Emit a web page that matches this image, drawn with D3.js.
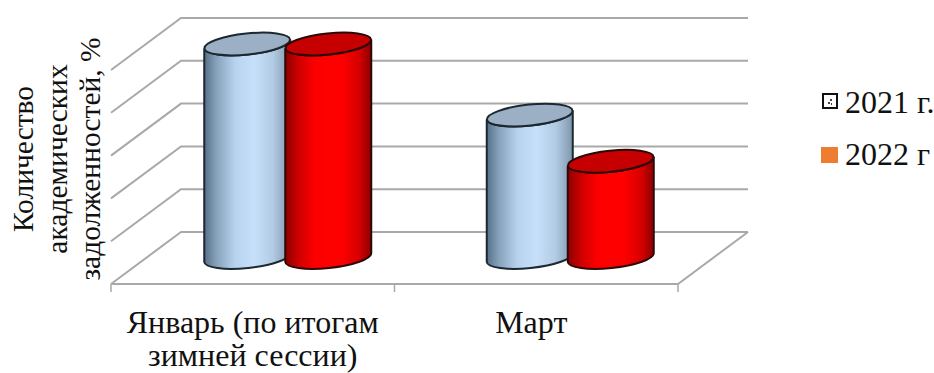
<!DOCTYPE html>
<html lang="ru"><head><meta charset="utf-8">
<script src="https://cdn.jsdelivr.net/npm/d3@7"></script>
<style>html,body{margin:0;background:#fff}svg{display:block}text{font-family:"Liberation Serif","Times New Roman",serif;fill:#111}</style>
</head><body><svg id="c" width="934" height="373"></svg>
<script>
const categories = ["Январь (по итогам|зимней сессии)", "Март"];
const seriesNames = ["2021 г.", "2022 г"];
const values2021 = [25, 16.7];
const values2022 = [25, 11.3];
const axisTitle = ["Количество", "академических", "задолженностей, %"];
const gridTicks = [0, 5, 10, 15, 20, 25];

const svg = d3.select("#c");
const depth = {dx: 70, dy: -52};
const y = d3.scaleLinear().domain([0, 25]).range([232, 18]);
const x = d3.scaleBand().domain(categories).range([111, 678]);
const xs = d3.scaleBand().domain(seriesNames).range([0, x.bandwidth()]).paddingInner(-0.04).paddingOuter(0.73);
const gridColor = "#a9a9a9";

// Horizontal gradients that give the cylinders their rounded shading
const defs = svg.append("defs");
function shade(id, stops) {
  const g = defs.append("linearGradient").attr("id", id);
  stops.forEach(([o, c]) => g.append("stop").attr("offset", o).attr("stop-color", c));
}
shade("blueSide", [[0, "#56708a"], [.14, "#86a1ba"], [.36, "#b8d3ee"], [.58, "#c6e0fb"], [.8, "#b2cbe3"], [1, "#7f97ad"]]);
shade("redSide", [[0, "#8c0000"], [.16, "#d00000"], [.34, "#fb0000"], [.65, "#ff0000"], [.85, "#d80000"], [1, "#8c0000"]]);

// Back wall gridlines with their side-wall returns, then the floor
const grid = svg.append("g").attr("stroke", gridColor).attr("stroke-width", 2).attr("fill", "none");
grid.selectAll("path.g").data(gridTicks).join("path").attr("class", "g")
  .attr("d", t => d3.line()([[111, y(t) - depth.dy], [111 + depth.dx, y(t)], [678 + depth.dx, y(t)]]));
grid.append("path").attr("d", d3.line()([[111, y(0) - depth.dy], [678, y(0) - depth.dy], [678 + depth.dx, y(0)]]));

// Category ticks along the front edge of the floor
const tickX = [...categories.map(c => x(c)), 678];
grid.selectAll("line.t").data(tickX).join("line").attr("class", "t")
  .attr("x1", d => d).attr("x2", d => d)
  .attr("y1", y(0) - depth.dy).attr("y2", y(0) - depth.dy + 8).attr("stroke-width", 1.5);

// Cylinders sit halfway back across the floor, with a slightly tilted elliptical section
const rx = 43, ry = 10.5, tilt = -6, lean = 4.5;
function drawCylinder(g, cx, v, side, cap, edge) {
  const top = y(v) + 26, base = y(0) + 25.5;
  const lx = cx - rx, rr = cx + rx;
  const body = `M${lx},${top + lean} L${lx},${base + lean} A${rx},${ry} ${tilt} 0 0 ${rr},${base - lean} L${rr},${top - lean} A${rx},${ry} ${tilt} 0 1 ${lx},${top + lean} Z`;
  g.append("path").attr("d", body).attr("fill", `url(#${side})`).attr("stroke", edge).attr("stroke-width", 2);
  g.append("ellipse").attr("transform", `translate(${cx},${top}) rotate(${tilt})`)
    .attr("rx", rx).attr("ry", ry).attr("fill", cap).attr("stroke", edge).attr("stroke-width", 2);
}
const marks = svg.append("g");
const groupShift = [0, -1];
categories.forEach((c, i) => {
  const off = x(c) + depth.dx / 2 + groupShift[i];
  drawCylinder(marks, off + xs(seriesNames[0]) + xs.bandwidth() / 2, values2021[i], "blueSide", "#9bb0c5", "#1d2730");
  drawCylinder(marks, off + xs(seriesNames[1]) + xs.bandwidth() / 2, values2022[i], "redSide", "#c60000", "#2c0808");
});

// Category labels, split over lines at the marker
const labelSize = 32, labelShift = [0, -5];
categories.forEach((c, k) => {
  const cx = x(c) + x.bandwidth() / 2 + labelShift[k];
  const t = svg.append("text").attr("text-anchor", "middle").attr("font-size", labelSize);
  c.split("|").forEach((line, i) => t.append("tspan").attr("x", cx).attr("y", 333 + i * 33).text(line));
});

// Rotated value-axis title
axisTitle.forEach((line, i) => {
  svg.append("text").attr("text-anchor", "middle").attr("font-size", 29.5)
    .attr("transform", `translate(${33 + i * 33.5},159) rotate(-90)`).text(line);
});

// Legend: outlined key with a small speck inside, and a filled key
const legendY = [113, 165];
const lg = svg.append("g");
lg.append("rect").attr("x", 823).attr("y", 94).attr("width", 14).attr("height", 14)
  .attr("fill", "#fff").attr("stroke", "#111").attr("stroke-width", 2);
lg.append("path").attr("d", "M830,99h2v2h-2zM828,102h2v2h-2zM831,103h1v2h-1z").attr("fill", "#444");
lg.append("rect").attr("x", 821).attr("y", 147).attr("width", 17).attr("height", 16).attr("fill", "#ed7d31");
seriesNames.forEach((n, i) => lg.append("text").attr("x", 845).attr("y", legendY[i]).attr("font-size", labelSize).text(n));
</script></body></html>
